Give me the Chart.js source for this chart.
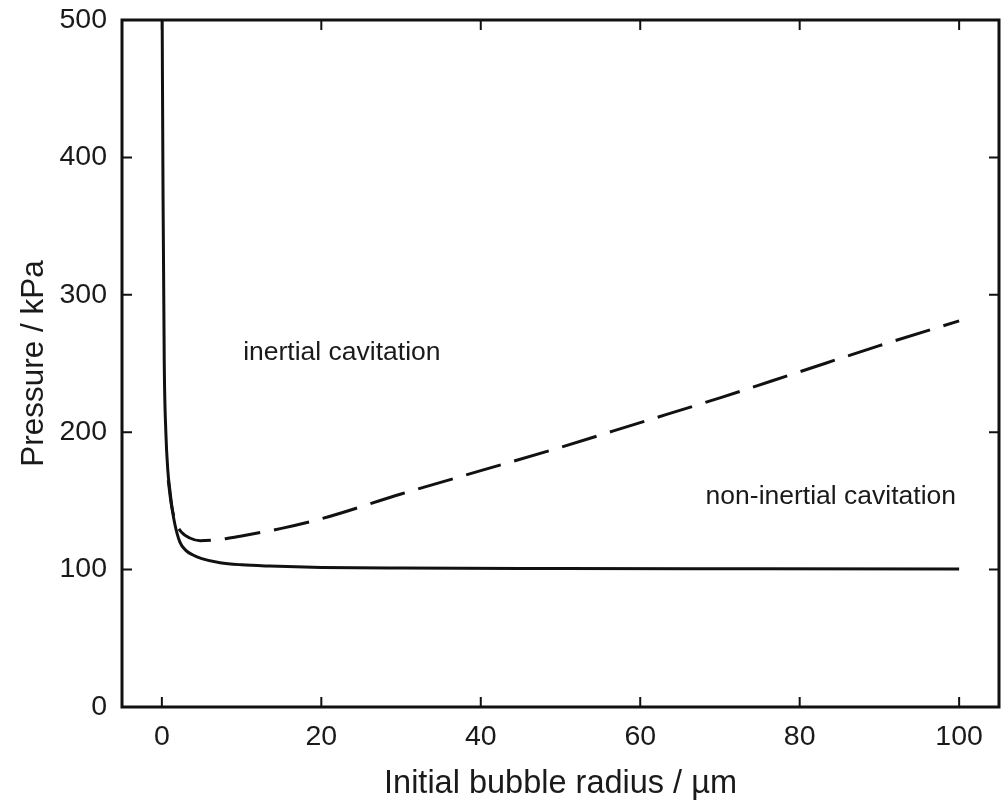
<!doctype html>
<html lang="en">
    <head>
        <meta charset="utf-8" />
        <title>Cavitation threshold</title>
        <script src="https://cdn.jsdelivr.net/npm/chart.js@4.4.1/dist/chart.umd.min.js"></script>
        <style>
            html, body { margin: 0; padding: 0; background: #fff; }
            #box { width: 1001px; height: 809px; }
        </style>
    </head>
    <body>
        <div id="box">
            <canvas id="myChart"></canvas>
        </div>

        <script>
            // curva continua (soglia inerziale) - raggio in um, pressione in kPa
            const solidR = [0.04, 0.15, 0.3, 0.5, 0.75, 1.0, 1.3, 1.63, 2.26, 3.0, 3.9, 5.0, 7.3, 10, 13.5, 20, 30, 50, 75, 100];
            const solidP = [500, 370, 250, 200, 172, 158, 144, 133, 120, 114, 110.6, 108, 105, 103.5, 102.6, 101.6, 101.1, 100.8, 100.6, 100.4];

            // curva tratteggiata
            const dashR = [0.8, 1.2, 1.7, 2.5, 3.5, 4.8, 6.5, 8, 10, 15, 20, 30, 40, 50, 60, 70, 80, 90, 100];
            const dashP = [165, 147, 135, 127, 123, 121, 121.5, 122.5, 124.5, 130, 137, 155, 172, 189, 207, 225, 244, 263, 281];

            // tick degli assi
            const xTicks = [0, 20, 40, 60, 80, 100];
            const yTicks = [0, 100, 200, 300, 400, 500];

            // etichette delle regioni
            const regionLabels = ["inertial cavitation", "non-inertial cavitation"];
            const regionR = [10.2, 68.2];
            const regionP = [258, 153];

            function pairs(xs, ys) {
                let lim = xs.length < ys.length ? xs.length : ys.length;
                let out = [];
                for (let i = 0; i < lim; i++) out.push({x: xs[i], y: ys[i]});
                return out;
            }

            // cornice + tacche interne su tutti i lati + testi delle regioni
            const framePlugin = {
                id: 'frame',
                afterDatasetsDraw(chart) {
                    const ctx = chart.ctx, a = chart.chartArea;
                    const xs = chart.scales.x, ys = chart.scales.y;
                    ctx.save();
                    ctx.strokeStyle = '#111';
                    ctx.lineWidth = 2;
                    const len = 10;
                    xTicks.forEach(v => {
                        const px = xs.getPixelForValue(v);
                        ctx.beginPath();
                        ctx.moveTo(px, a.bottom); ctx.lineTo(px, a.bottom - len);
                        ctx.moveTo(px, a.top); ctx.lineTo(px, a.top + len);
                        ctx.stroke();
                    });
                    yTicks.forEach(v => {
                        const py = ys.getPixelForValue(v);
                        ctx.beginPath();
                        ctx.moveTo(a.left, py); ctx.lineTo(a.left + len, py);
                        ctx.moveTo(a.right, py); ctx.lineTo(a.right - len, py);
                        ctx.stroke();
                    });
                    ctx.lineWidth = 3;
                    ctx.strokeRect(a.left, a.top, a.right - a.left, a.bottom - a.top);

                    ctx.fillStyle = '#1a1a1a';
                    ctx.font = '26.5px "Liberation Sans", Arial, sans-serif';
                    ctx.textAlign = 'left';
                    ctx.textBaseline = 'middle';
                    for (let i = 0; i < regionLabels.length; i++) {
                        ctx.fillText(regionLabels[i], xs.getPixelForValue(regionR[i]), ys.getPixelForValue(regionP[i]));
                    }
                    ctx.restore();
                }
            };

            const font = '"Liberation Sans", Arial, sans-serif';

            const mychart = new Chart(document.getElementById('myChart'), {
                type: 'line',
                data: {
                    datasets: [{
                        data: pairs(solidR, solidP),
                        borderColor: '#111',
                        borderWidth: 3,
                        pointRadius: 0,
                        cubicInterpolationMode: 'monotone',
                        fill: false
                    }, {
                        data: pairs(dashR, dashP),
                        borderColor: '#111',
                        borderWidth: 3,
                        borderDash: [36, 14],
                        pointRadius: 0,
                        cubicInterpolationMode: 'monotone',
                        fill: false
                    }]
                },
                options: {
                    responsive: true,
                    maintainAspectRatio: false,
                    animation: false,
                    layout: { padding: { top: 20, right: 2, left: 0, bottom: 0 } },
                    scales: {
                        x: {
                            type: 'linear',
                            min: -5,
                            max: 105,
                            afterFit: s => { s.height = 102; s.paddingLeft = 0; s.paddingRight = 0; },
                            afterBuildTicks: s => { s.ticks = xTicks.map(v => ({value: v})); },
                            grid: { display: false, drawTicks: false },
                            border: { display: false },
                            ticks: { font: { family: font, size: 28.5 }, color: '#1a1a1a', padding: 13, maxRotation: 0 },
                            title: {
                                display: true,
                                text: 'Initial bubble radius / µm',
                                font: { family: font, size: 32.5 },
                                color: '#1a1a1a',
                                padding: { top: 0, bottom: 5 }
                            }
                        },
                        y: {
                            type: 'linear',
                            min: 0,
                            max: 500,
                            afterFit: s => { s.width = 122; s.paddingTop = 0; s.paddingBottom = 0; },
                            afterBuildTicks: s => { s.ticks = yTicks.map(v => ({value: v})); },
                            grid: { display: false, drawTicks: false },
                            border: { display: false },
                            ticks: { font: { family: font, size: 28.5 }, color: '#1a1a1a', padding: 15 },
                            title: {
                                display: true,
                                text: 'Pressure / kPa',
                                font: { family: font, size: 31.5 },
                                color: '#1a1a1a',
                                padding: { top: 15, bottom: 0 }
                            }
                        }
                    },
                    plugins: {
                        legend: { display: false },
                        tooltip: { enabled: false }
                    }
                },
                plugins: [framePlugin]
            });
        </script>
    </body>
</html>
